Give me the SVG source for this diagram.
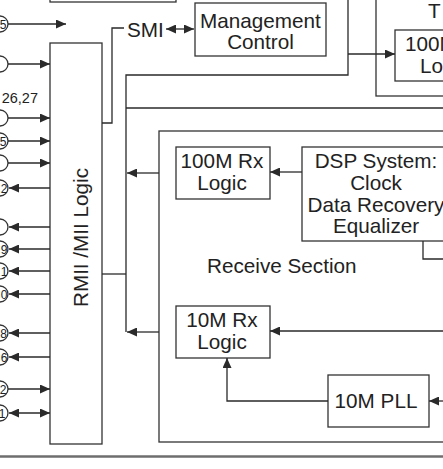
<svg xmlns="http://www.w3.org/2000/svg" width="443" height="469" viewBox="0 0 443 469">
<style>
  .box { fill: #ffffff; stroke: #333333; stroke-width: 1.3; }
  .frame { fill: none; stroke: #333333; stroke-width: 1.3; }
  .ln { fill: none; stroke: #2a2a2a; stroke-width: 1.3; }
  .arr { fill: none; stroke: #2a2a2a; stroke-width: 1.3; marker-end: url(#ah); }
  .darr { fill: none; stroke: #2a2a2a; stroke-width: 1.3; marker-end: url(#ah); marker-start: url(#ah); }
  .pin { fill: #ffffff; stroke: #333333; stroke-width: 1.3; }
  .t { font-family: "Liberation Sans", Arial, sans-serif; font-size: 20.7px; fill: #222222; }
  .c { text-anchor: middle; }
  .d { font-family: "Liberation Sans", Arial, sans-serif; font-size: 12px; fill: #222222; text-anchor: end; }
</style>
<defs>
  <marker id="ah" viewBox="0 0 10 9" refX="10" refY="4.5" markerWidth="10" markerHeight="9" markerUnits="userSpaceOnUse" orient="auto-start-reverse">
    <path d="M0,0 L10,4.5 L0,9 z" fill="#2a2a2a"/>
  </marker>
</defs>
<rect width="443" height="469" fill="#ffffff"/>

<g id="top-box"><rect class="box" x="50" y="-10" width="126" height="12"/></g>

<g id="transmit-section">
  <rect class="frame" x="376" y="-10" width="100" height="106"/>
  <text class="t" x="428" y="18">T</text>
</g>
<g id="tx-100m-logic">
  <rect class="box" x="395" y="30" width="100" height="51"/>
  <text class="t" x="405" y="51">100M</text>
  <text class="t" x="420" y="73">Lo</text>
</g>

<g id="management-control">
  <rect class="box" x="195" y="3" width="131" height="53"/>
  <text class="t c" x="260.5" y="28">Management</text>
  <text class="t c" x="260.5" y="49">Control</text>
</g>
<g id="smi-label"><text class="t" x="127" y="37">SMI</text></g>

<g id="rmii-mii-logic">
  <rect class="box" x="50" y="43" width="52" height="401"/>
  <text class="t c" transform="translate(88,237.5) rotate(-90)">RMII /MII Logic</text>
</g>

<g id="receive-section">
  <rect class="frame" x="159" y="131" width="300" height="311"/>
  <text class="t" x="207" y="273">Receive Section</text>
</g>
<g id="rx-100m-logic">
  <rect class="box" x="176" y="147" width="94" height="52"/>
  <text class="t c" x="222" y="168">100M Rx</text>
  <text class="t c" x="222" y="190">Logic</text>
</g>
<g id="dsp-system">
  <rect class="box" x="302" y="147" width="150" height="94"/>
  <text class="t c" x="376" y="168">DSP System:</text>
  <text class="t c" x="376" y="190">Clock</text>
  <text class="t c" x="376" y="212">Data Recovery</text>
  <text class="t c" x="376" y="233">Equalizer</text>
</g>
<g id="rx-10m-logic">
  <rect class="box" x="176" y="306" width="94" height="52"/>
  <text class="t c" x="222" y="327">10M Rx</text>
  <text class="t c" x="222" y="349">Logic</text>
</g>
<g id="pll-10m">
  <rect class="box" x="328" y="375" width="101" height="52"/>
  <text class="t c" x="376" y="408">10M PLL</text>
</g>

<g id="pins">
  <circle class="pin" cx="0" cy="24" r="8"/>
  <circle class="pin" cx="0" cy="64" r="8"/>
  <circle class="pin" cx="0" cy="118" r="8"/>
  <circle class="pin" cx="0" cy="141" r="8"/>
  <circle class="pin" cx="0" cy="163" r="8"/>
  <circle class="pin" cx="0" cy="188" r="8"/>
  <circle class="pin" cx="0" cy="227" r="8"/>
  <circle class="pin" cx="0" cy="249" r="8"/>
  <circle class="pin" cx="0" cy="271" r="8"/>
  <circle class="pin" cx="0" cy="294" r="8"/>
  <circle class="pin" cx="0" cy="333" r="8"/>
  <circle class="pin" cx="0" cy="357" r="8"/>
  <circle class="pin" cx="0" cy="389" r="8"/>
  <circle class="pin" cx="0" cy="413" r="8"/>
  <text class="d" x="6.5" y="28.5">5</text>
  <text class="d" x="6.5" y="145.5">5</text>
  <text class="d" x="7.5" y="192.5">2</text>
  <text class="d" x="7.5" y="253.5">9</text>
  <text class="d" x="7.5" y="275.5">1</text>
  <text class="d" x="7.5" y="298.5">0</text>
  <text class="d" x="7" y="337.5">8</text>
  <text class="d" x="7.5" y="361.5">6</text>
  <text class="d" x="6.5" y="393.5">2</text>
  <text class="d" x="5.5" y="417.5">1</text>
  <text class="t" x="38" y="103" style="font-size:14.5px;text-anchor:end">26,27</text>
</g>

<g id="connectors">
  <path class="arr" d="M8,24 H66"/>
  <path class="arr" d="M8,64 H50"/>
  <path class="arr" d="M8,118 H50"/>
  <path class="arr" d="M8,141 H50"/>
  <path class="arr" d="M8,163 H50"/>
  <path class="arr" d="M50,188 H9"/>
  <path class="arr" d="M50,227 H9"/>
  <path class="arr" d="M50,249 H9"/>
  <path class="arr" d="M50,271 H9"/>
  <path class="arr" d="M50,294 H9"/>
  <path class="arr" d="M50,333 H9"/>
  <path class="arr" d="M50,357 H9"/>
  <path class="arr" d="M8,389 H50"/>
  <path class="darr" d="M9,413 H50"/>

  <path class="ln" d="M102,123 H112 V28 H124"/>
  <path class="darr" d="M166,29 H194"/>

  <path class="ln" d="M102,274 H126"/>
  <path class="ln" d="M126,332 V75 H348 V-2"/>
  <path class="ln" d="M126,108 H445"/>
  <path class="arr" d="M348,54 H395"/>

  <path class="arr" d="M159,173 H127"/>
  <path class="arr" d="M159,332 H127"/>
  <path class="arr" d="M302,172 H270"/>
  <path class="ln" d="M423,241 V259 H445"/>
  <path class="arr" d="M445,331 H270"/>
  <path class="arr" d="M445,401 H429"/>
  <path class="arr" d="M328,401 H227 V358"/>
</g>

<line x1="0" y1="456.5" x2="443" y2="456.5" stroke="#6e6e6e" stroke-width="2.5"/>
</svg>
